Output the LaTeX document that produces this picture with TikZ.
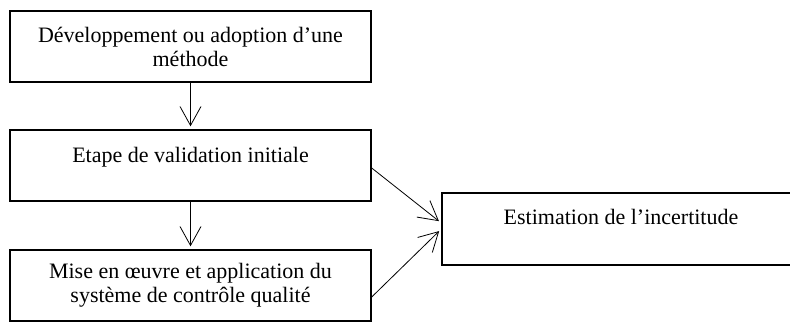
\documentclass[tikz,border=0pt]{standalone}
\usepackage{fontspec}
\setmainfont{Liberation Serif}
\usepackage{tikz}
\usetikzlibrary{arrows.meta, shapes}
\tikzstyle{kasten} = [draw, rectangle, line width=0.7pt, align=center, inner sep=0pt]
\tikzstyle{line} = [draw, -{Straight Barb[length=9.5pt, width=10.5pt]}, line width=0.4pt, shorten >=1.5pt]

\begin{document}
\begin{tikzpicture}[x=0.5pt, y=-0.5pt,
			oben/.style={text height=8pt, text depth=#1},
			font=\fontsize{11}{12}\selectfont]
			% Bildbereich
			\useasboundingbox (0,0) rectangle (790,322);
			\clip (0,0) rectangle (790,322);
			% Kaesten
			\node[kasten, minimum width=180.5pt, minimum height=35.5pt] (methode) at (190.5,46.5) {D\'eveloppement ou adoption d'une\\ m\'ethode};
			\node[kasten, oben=11pt, minimum width=180.5pt, minimum height=35.5pt] (validation) at (190.5,165.5) {Etape de validation initiale};
			\node[kasten, minimum width=180.5pt, minimum height=35.5pt] (qualite) at (190.5,285.5) {Mise en {\oe}uvre et application du\\ syst\`eme de contr\^ole qualit\'e};
			\node[kasten, oben=13pt, minimum width=179pt, minimum height=36pt] (incertitude) at (621,229) {Estimation de l'incertitude};
			% Pfeile
			\draw[line] (methode) -- (validation);
			\draw[line] (validation) -- (qualite);
			\draw[line] ([yshift=-1.25pt]validation.east) -- ([yshift=3pt]incertitude.west);
			\draw[line] ([yshift=-5.75pt]qualite.east) -- (incertitude.west);
		\end{tikzpicture}
\end{document}
